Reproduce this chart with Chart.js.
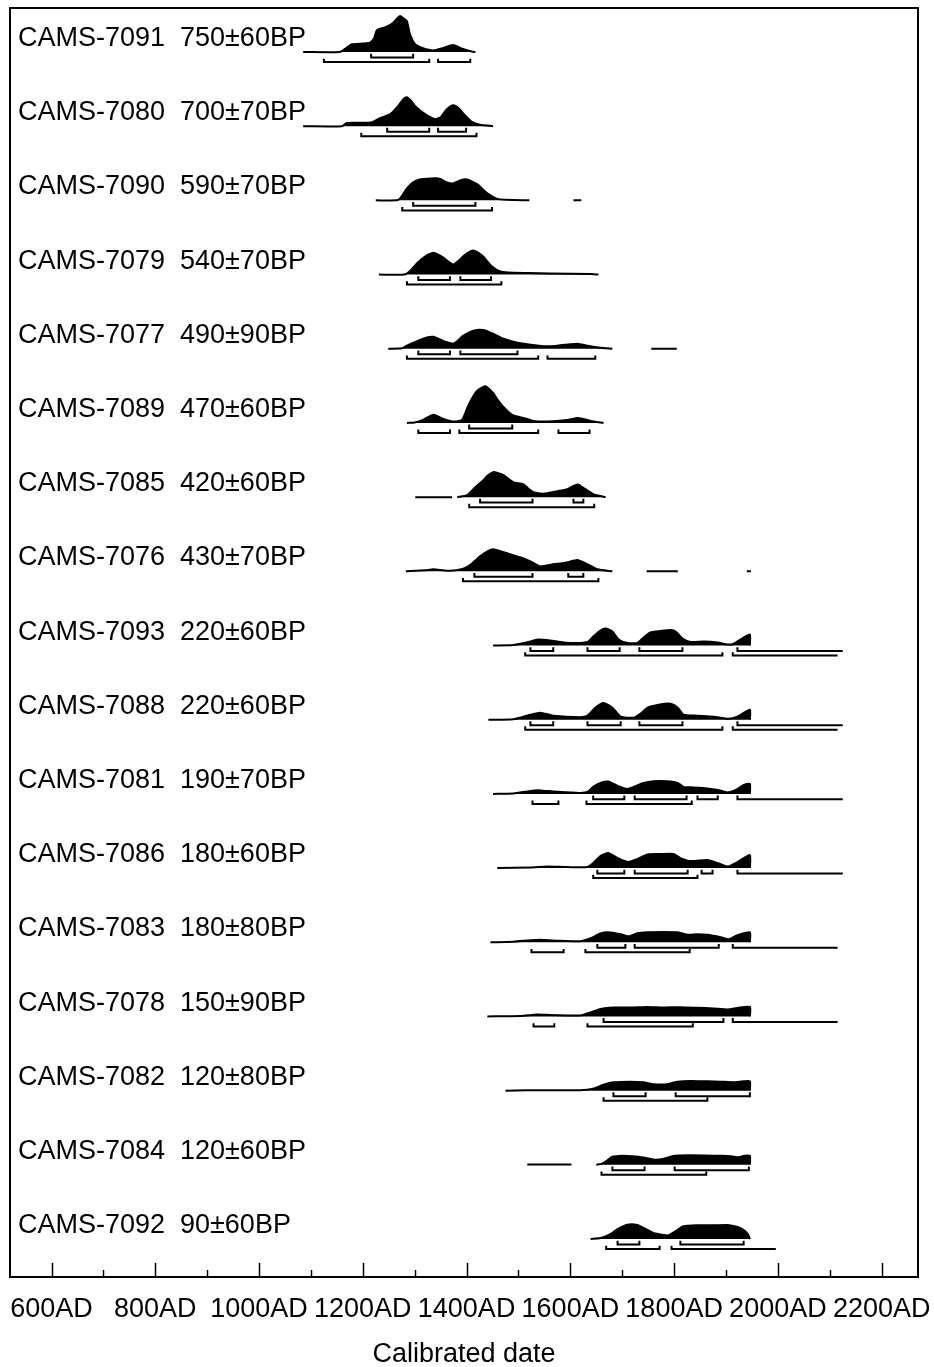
<!DOCTYPE html>
<html>
<head>
<meta charset="utf-8">
<script src="https://cdn.jsdelivr.net/npm/chart.js@4.4.1/dist/chart.umd.min.js"></script>
<style>
  html, body { margin: 0; padding: 0; background: #fff; }
</style>
</head>
<body>
<canvas id="calChart" width="934" height="1367"></canvas>
<script>
// samples, top to bottom
const sampleNames = ['CAMS-7091', 'CAMS-7080', 'CAMS-7090', 'CAMS-7079', 'CAMS-7077', 'CAMS-7089',
  'CAMS-7085', 'CAMS-7076', 'CAMS-7093', 'CAMS-7088', 'CAMS-7081', 'CAMS-7086', 'CAMS-7083',
  'CAMS-7078', 'CAMS-7082', 'CAMS-7084', 'CAMS-7092'];
const ages = ['750±60BP', '700±70BP', '590±70BP', '540±70BP', '490±90BP', '470±60BP', '420±60BP',
  '430±70BP', '220±60BP', '220±60BP', '190±70BP', '180±60BP', '180±80BP', '150±90BP', '120±80BP',
  '120±60BP', '90±60BP'];

// [calendar year AD, relative probability]; null = gap in the distribution
const densities = [
  [[1085,0],[1156,0],[1168,4],[1179,7.7],[1200,8.5],[1214,9.3],[1222,14],[1227,21.7],[1245,25],[1258,29],[1267,34],[1272,36],[1280,33],[1285,31],[1291,17.7],[1301,7.7],[1316,3.7],[1336,1.5],[1355,4],[1374,7],[1393,3],[1410,0.5],[1417,0]],
  [[1085,0],[1160,0],[1169,3.3],[1200,3.5],[1218,4],[1233,8],[1253,12],[1268,20],[1278,27],[1285,29],[1292,26],[1301,20],[1320,12],[1339,7],[1350,9],[1362,17],[1374,21],[1385,18],[1393,13],[1411,4],[1426,1.5],[1451,0]],
  [[1225,0],[1265,0],[1272,2],[1280,8],[1285,12],[1297,18],[1310,21],[1324,21.7],[1340,22],[1349,21.5],[1362,18],[1374,17],[1390,20.5],[1401,21],[1410,19],[1421,16],[1440,7],[1459,1.5],[1478,0.5],[1521,0],[1560,null],[1606,0],[1621,0]],
  [[1231,0],[1280,0],[1290,3],[1305,11.7],[1320,18],[1336,21.7],[1345,20],[1355,17],[1374,10],[1385,14],[1393,18],[1403,22],[1413,24],[1422,22],[1432,18],[1449,8],[1465,3],[1480,2],[1520,1.5],[1561,1],[1640,0.5],[1654,0]],
  [[1249,0],[1275,0.5],[1285,3],[1310,8.7],[1325,11.5],[1336,12],[1350,9],[1359,7],[1374,5],[1385,9],[1393,13],[1413,18],[1432,18.7],[1451,15],[1471,10],[1498,6],[1523,4],[1548,2.5],[1575,3],[1600,4.5],[1614,5],[1633,3],[1658,1],[1681,0],[1720,null],[1756,0],[1805,0]],
  [[1285,0],[1300,0.5],[1316,3],[1336,8.3],[1355,4],[1374,1.5],[1391,3],[1403,17],[1412,26],[1420,32],[1436,36.7],[1451,30],[1460,23],[1469,17],[1488,8],[1509,5],[1529,2],[1556,1.5],[1594,3],[1615,5],[1639,2],[1664,0]],
  [[1301,0],[1372,0],[1377,null],[1382,0],[1401,2],[1417,10],[1432,17],[1442,22],[1451,25],[1461,24],[1471,22],[1490,15],[1509,13],[1520,8],[1529,5],[1548,3.5],[1575,6],[1594,8],[1605,11],[1614,12.7],[1629,8],[1644,3],[1668,0]],
  [[1283,0],[1320,1],[1336,2],[1355,1],[1368,0.5],[1390,2],[1403,5],[1415,10],[1426,15],[1440,20],[1451,22],[1465,20],[1478,18],[1503,14],[1523,10],[1542,5],[1567,7],[1590,8.5],[1605,10.5],[1614,11.3],[1633,7],[1652,2],[1681,0],[1710,null],[1747,0],[1807,0],[1870,null],[1940,0],[1948,0]],
  [[1451,0],[1490,0.5],[1523,4],[1538,6],[1561,5],[1587,3],[1619,2.5],[1633,3.5],[1644,9],[1658,15],[1668,17],[1681,14],[1693,6],[1710,2.5],[1729,2.5],[1741,8],[1754,13],[1774,14.5],[1793,15.5],[1803,14],[1816,7],[1832,3.5],[1857,4],[1884,3],[1903,1],[1914,1.5],[1934,8],[1946,11],[1946,0]],
  [[1442,0],[1490,0.5],[1523,5],[1542,7],[1567,4],[1619,2.5],[1633,4],[1648,12],[1664,16.7],[1681,12],[1697,3],[1722,2],[1735,6],[1749,12],[1768,14.7],[1793,16],[1807,12],[1818,5],[1845,4],[1876,3],[1905,1],[1922,3],[1946,10],[1946,0]],
  [[1451,0],[1490,0.5],[1523,3],[1542,3.5],[1567,2.5],[1600,1.5],[1619,1],[1633,2],[1644,7],[1658,11],[1673,12.3],[1691,8],[1710,5],[1722,7],[1741,11],[1760,12.7],[1787,12.7],[1807,11],[1818,7],[1837,6.5],[1864,5.5],[1884,4],[1903,1.5],[1919,4],[1934,9],[1946,10],[1946,0]],
  [[1459,0],[1523,0.5],[1556,1.5],[1594,1],[1633,1],[1644,5],[1658,12],[1673,15],[1691,10],[1712,6],[1729,9],[1749,13.7],[1774,14],[1799,14],[1812,10],[1832,7],[1864,8],[1884,5],[1903,1.5],[1922,6],[1946,13],[1946,0]],
  [[1446,0],[1490,0.5],[1523,2],[1542,2.5],[1575,1.5],[1619,1],[1639,4],[1658,8.7],[1673,10],[1697,8],[1712,6],[1729,9],[1749,10],[1780,10.3],[1807,10],[1826,7.5],[1845,8],[1864,7.5],[1890,5],[1905,3],[1922,7],[1946,10],[1946,0]],
  [[1440,0],[1504,0.5],[1536,2],[1561,1.5],[1594,1],[1619,1],[1639,4],[1658,7.5],[1683,9],[1716,9],[1749,9.5],[1780,9],[1812,9.3],[1845,8.7],[1876,8],[1903,7],[1922,8.5],[1946,9.5],[1946,0]],
  [[1475,0],[1556,0.5],[1619,0.5],[1644,2],[1664,6],[1683,8.3],[1716,9],[1741,8.3],[1760,6.5],[1787,6.5],[1807,9],[1832,9.7],[1864,9.3],[1890,9],[1915,8.5],[1934,9.3],[1946,9.3],[1946,0]],
  [[1517,0.3],[1602,0.3],[1625,null],[1650,0],[1660,1],[1670,4],[1681,8],[1700,9],[1720,8.5],[1743,7],[1764,5],[1780,6],[1801,9],[1830,9.5],[1860,9.3],[1890,9],[1910,8.5],[1925,7.5],[1935,9],[1946,9],[1946,0]],
  [[1639,0],[1658,1],[1677,5],[1691,10],[1710,14.3],[1729,14],[1745,10],[1760,6],[1780,4],[1789,3.7],[1803,8],[1818,12.7],[1845,13.7],[1876,13.7],[1903,14],[1922,12],[1934,9],[1942,5],[1946,0]]
];

// upper brackets (68.2%) and lower brackets (95.4%), [from, to] AD
const ranges68 = [
  [[1216,1297]], [[1247,1328],[1345,1399]], [[1297,1417]], [[1307,1368],[1388,1447]],
  [[1307,1368],[1388,1498]], [[1405,1488]], [[1426,1527],[1606,1625]], [[1415,1527],[1596,1625]],
  [[1523,1567],[1633,1695],[1733,1816],[1922,2125]], [[1523,1567],[1633,1697],[1733,1816],[1922,2125]],
  [[1644,1704],[1724,1824],[1845,1884],[1922,2125]], [[1652,1704],[1724,1826],[1853,1874],[1922,2125]],
  [[1652,1706],[1724,1886],[1913,2115]], [[1664,1895],[1913,2115]], [[1683,1745],[1803,1946]],
  [[1681,1743],[1801,1944]], [[1691,1733],[1812,1934]]
];
const ranges95 = [
  [[1125,1328],[1345,1407]], [[1197,1419]], [[1276,1449]], [[1285,1467]],
  [[1285,1538],[1556,1648]], [[1307,1368],[1386,1538],[1577,1637]], [[1405,1646]], [[1393,1654]],
  [[1513,1893],[1913,2115]], [[1513,1893],[1913,2115]], [[1527,1577],[1631,1834]], [[1644,1845]],
  [[1525,1587],[1629,1830]], [[1529,1569],[1633,1836]], [[1664,1864]], [[1660,1862]],
  [[1669,1772],[1795,1996]]
];

const majorTicks = [600, 800, 1000, 1200, 1400, 1600, 1800, 2000, 2200];
const minorTicks = [700, 900, 1100, 1300, 1500, 1700, 1900, 2100];
const curveEnd = 1950;   // ranges past this are open-ended

const FONT = '"Liberation Sans", Arial, Helvetica, sans-serif';
const PROB_SCALE = 0.01348;  // probability unit -> row units

const datasets = [];
densities.forEach((pts, row) => {
  datasets.push({
    data: pts.map(p => ({ x: p[0], y: p[1] === null ? null : row - p[1] * PROB_SCALE })),
    borderColor: '#000',
    backgroundColor: '#000',
    borderWidth: 2,
    pointRadius: 0,
    tension: 0.2,
    spanGaps: false,
    fill: { value: row }
  });
});

function bracketData(ranges, row, lineOff, tipOff) {
  const out = [];
  ranges.forEach(r => {
    out.push({ x: r[0], y: row + tipOff });
    out.push({ x: r[0], y: row + lineOff });
    out.push({ x: r[1], y: row + lineOff });
    if (r[1] <= curveEnd) out.push({ x: r[1], y: row + tipOff });
    out.push({ x: r[1], y: null });
  });
  return out;
}

ranges68.forEach((rs, row) => {
  datasets.push({
    data: bracketData(rs, row, 0.074, 0.022),
    borderColor: '#000', borderWidth: 2, pointRadius: 0, tension: 0, fill: false, spanGaps: false
  });
});
ranges95.forEach((rs, row) => {
  datasets.push({
    data: bracketData(rs, row, 0.135, 0.09),
    borderColor: '#000', borderWidth: 2, pointRadius: 0, tension: 0, fill: false, spanGaps: false
  });
});

// frame, inward ticks, tick labels, axis title and sample labels
const decorations = {
  id: 'decorations',
  afterDraw(chart) {
    const { ctx, chartArea: a, scales: { x, y } } = chart;
    ctx.save();
    ctx.strokeStyle = '#000';
    ctx.lineWidth = 2;
    ctx.strokeRect(a.left, a.top, a.right - a.left, a.bottom - a.top);

    ctx.lineWidth = 1.5;
    ctx.beginPath();
    majorTicks.forEach(v => {
      const px = Math.round(x.getPixelForValue(v)) + 0.5;
      ctx.moveTo(px, a.bottom);
      ctx.lineTo(px, a.bottom - 14);
    });
    minorTicks.forEach(v => {
      const px = Math.round(x.getPixelForValue(v)) + 0.5;
      ctx.moveTo(px, a.bottom);
      ctx.lineTo(px, a.bottom - 7);
    });
    ctx.stroke();

    ctx.fillStyle = '#000';
    ctx.font = '27px ' + FONT;
    ctx.textBaseline = 'middle';

    ctx.textAlign = 'center';
    majorTicks.forEach(v => {
      ctx.fillText(v + 'AD', x.getPixelForValue(v), a.bottom + 33);
    });
    ctx.fillText('Calibrated date', (a.left + a.right) / 2, a.bottom + 78);

    ctx.textAlign = 'left';
    sampleNames.forEach((name, row) => {
      const py = y.getPixelForValue(row - 0.18);
      ctx.fillText(name, a.left + 8, py);
      ctx.fillText(ages[row], a.left + 170, py);
    });
    ctx.restore();
  }
};

new Chart(document.getElementById('calChart'), {
  type: 'line',
  data: { datasets: datasets },
  options: {
    responsive: false,
    animation: false,
    devicePixelRatio: 1,
    layout: { padding: { left: 10, right: 16, top: 8, bottom: 90 } },
    scales: {
      x: { type: 'linear', min: 520, max: 2270, display: false },
      y: { type: 'linear', reverse: true, min: -0.593, max: 16.512, display: false }
    },
    plugins: {
      legend: { display: false },
      tooltip: { enabled: false }
    }
  },
  plugins: [decorations]
});
</script>
</body>
</html>
